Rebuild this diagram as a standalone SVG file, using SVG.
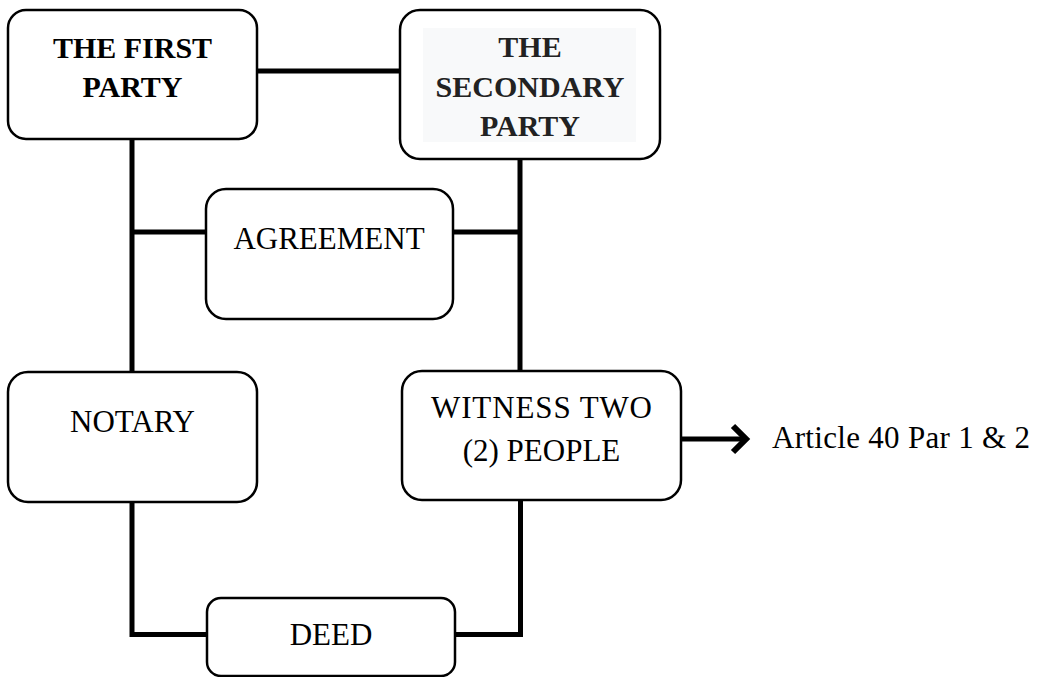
<svg xmlns="http://www.w3.org/2000/svg" width="1040" height="677" viewBox="0 0 1040 677">
<style>
.box{fill:#fff;stroke:#000;stroke-width:2.5}
.ln{fill:none;stroke:#000;stroke-width:5}
.t{font-family:"Liberation Serif","Times New Roman",serif;font-size:31px;fill:#000;text-anchor:middle}
.b{font-family:"Liberation Serif","Times New Roman",serif;font-size:30px;font-weight:bold;fill:#000;text-anchor:middle}
</style>
<rect width="1040" height="677" fill="#fff"/>
<g id="connectors">
<line class="ln" x1="257" y1="71" x2="400" y2="71"/>
<line class="ln" x1="132" y1="128" x2="132" y2="372"/>
<line class="ln" x1="520" y1="159" x2="520" y2="372"/>
<line class="ln" x1="132" y1="232" x2="206" y2="232"/>
<line class="ln" x1="453" y1="232" x2="520" y2="232"/>
<polyline class="ln" points="132,494 132,634.5 207,634.5"/>
<polyline class="ln" points="455,634.5 520.5,634.5 520.5,494"/>
<line class="ln" x1="681" y1="439" x2="744" y2="439"/>
<polyline class="ln" points="733,426 746,439 733,452" style="stroke-width:6"/>
</g>
<g id="first-party">
<rect class="box" x="8" y="10" width="249" height="129" rx="18"/>
<text class="b" x="132.5" y="58">THE FIRST</text>
<text class="b" x="132.5" y="97">PARTY</text>
</g>
<g id="secondary-party">
<rect class="box" x="400" y="10" width="260" height="149" rx="20"/>
<rect x="423" y="28" width="213" height="114" fill="#f8f9fa"/>
<text class="b" x="530" y="57" style="fill:#222">THE</text>
<text class="b" x="530" y="97" style="fill:#222">SECONDARY</text>
<text class="b" x="530" y="136" style="fill:#222">PARTY</text>
</g>
<g id="agreement">
<rect class="box" x="206" y="189" width="247" height="130" rx="20"/>
<text class="t" x="329" y="249">AGREEMENT</text>
</g>
<g id="notary">
<rect class="box" x="8" y="372" width="249" height="130" rx="20"/>
<text class="t" x="132.5" y="432">NOTARY</text>
</g>
<g id="witness">
<rect class="box" x="402" y="371" width="279" height="129" rx="20"/>
<text class="t" x="541.5" y="418" textLength="221">WITNESS TWO</text>
<text class="t" x="541.5" y="461">(2) PEOPLE</text>
</g>
<g id="deed">
<rect class="box" x="207" y="598" width="248" height="78" rx="14"/>
<text class="t" x="331" y="645">DEED</text>
</g>
<g id="article">
<text x="772" y="448" style="font-family:'Liberation Serif','Times New Roman',serif;font-size:31px;fill:#000" textLength="258">Article 40 Par 1 &amp; 2</text>
</g>
</svg>
